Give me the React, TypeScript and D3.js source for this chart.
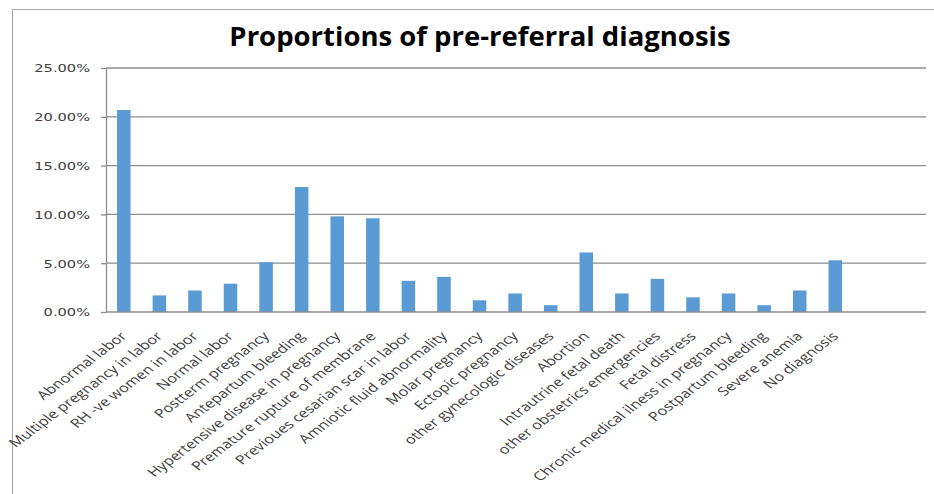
import { useEffect, useRef } from 'react';
import * as d3 from 'd3';

const chartTitle = 'Proportions of pre-referral diagnosis';

const categories = [
  'Abnormal labor',
  'Multiple pregnancy in labor',
  'RH -ve women in labor',
  'Normal labor',
  'Postterm pregnancy',
  'Antepartum bleeding',
  'Hypertensive disease in pregnancy',
  'Premature rupture of membrane',
  'Previoues cesarian scar in labor',
  'Amniotic fluid abnormality',
  'Molar pregnancy',
  'Ectopic pregnancy',
  'other gynecologic diseases',
  'Abortion',
  'Intrautrine fetal death',
  'other obstetrics emergencies',
  'Fetal distress',
  'Chronic medical ilness in pregnancy',
  'Postpartum bleeding',
  'Severe anemia',
  'No diagnosis',
];

// percent of referrals
const proportions = [
  20.7, 1.7, 2.2, 2.9, 5.1, 12.8, 9.8, 9.6, 3.2, 3.6, 1.2,
  1.9, 0.7, 6.1, 1.9, 3.4, 1.5, 1.9, 0.7, 2.2, 5.3,
];

const yTicks = [0, 5, 10, 15, 20, 25];

const App = () => {
  const ref = useRef<SVGSVGElement | null>(null);

  useEffect(() => {
    const svg = d3.select(ref.current);
    svg.selectAll('*').remove();

    const plot = { left: 106, right: 926, top: 68, bottom: 312 };
    const step = 35.575;
    const stretch = 1.33; // the picture is widened, text included
    const gridColor = '#8c8c8c';
    const textColor = '#404040';

    // chart frame
    svg
      .append('rect')
      .attr('x', 12.5)
      .attr('y', 9.5)
      .attr('width', 940)
      .attr('height', 500)
      .attr('fill', 'white')
      .attr('stroke', '#a6a6a6');

    svg
      .append('text')
      .attr('x', 480)
      .attr('y', 46)
      .attr('text-anchor', 'middle')
      .attr('font-family', 'Open Sans')
      .attr('font-weight', 'bold')
      .attr('font-size', 27.5)
      .attr('fill', '#000')
      .text(chartTitle);

    const x = d3
      .scaleBand<string>()
      .domain(categories)
      .range([plot.left, plot.left + step * categories.length])
      .paddingInner(0.62)
      .paddingOuter(0.31);

    const y = d3.scaleLinear().domain([0, 25]).range([plot.bottom, plot.top]);

    // gridlines
    svg
      .append('g')
      .selectAll('line')
      .data(yTicks.filter(t => t > 0))
      .enter()
      .append('line')
      .attr('x1', plot.left)
      .attr('x2', plot.right)
      .attr('y1', d => y(d))
      .attr('y2', d => y(d))
      .attr('stroke', gridColor)
      .attr('stroke-width', 1.3);

    // bars
    svg
      .append('g')
      .selectAll('rect')
      .data(categories)
      .enter()
      .append('rect')
      .attr('x', d => x(d)!)
      .attr('y', (d, i) => y(proportions[i]))
      .attr('width', x.bandwidth())
      .attr('height', (d, i) => plot.bottom - y(proportions[i]))
      .attr('fill', '#5b9bd5');

    // y axis
    const yAxis = svg
      .append('g')
      .attr('transform', `translate(${plot.left},0)`)
      .call(
        d3
          .axisLeft(y)
          .tickValues(yTicks)
          .tickSizeInner(5)
          .tickSizeOuter(0)
          .tickFormat(d => `${(+d).toFixed(2)}%`)
      );
    yAxis.select('.domain').attr('stroke', gridColor).attr('stroke-width', 1.3);
    yAxis.selectAll('.tick line').attr('stroke', gridColor).attr('stroke-width', 1.3);
    yAxis
      .selectAll('text')
      .attr('x', -12)
      .attr('dy', '0.36em')
      .attr('transform', `scale(${stretch},1)`)
      .attr('font-family', 'DejaVu Sans')
      .attr('font-size', 11)
      .attr('fill', textColor);

    // x axis
    const xAxis = svg
      .append('g')
      .attr('transform', `translate(0,${plot.bottom})`)
      .call(d3.axisBottom(x).tickSize(0));
    xAxis.select('.domain').remove();
    xAxis
      .append('line')
      .attr('x1', plot.left)
      .attr('x2', plot.right)
      .attr('stroke', gridColor)
      .attr('stroke-width', 1.3);
    xAxis
      .selectAll('.tick text')
      .attr('x', 0)
      .attr('y', 0)
      .attr('dy', 0)
      .attr('text-anchor', 'end')
      .attr('transform', `translate(4,25) scale(${stretch},1) rotate(-45)`)
      .attr('font-family', 'Open Sans')
      .attr('font-size', 12.3)
      .attr('fill', textColor);
  }, []);

  return (
    <svg
      ref={ref}
      width={934}
      height={494}
      style={{ position: 'absolute', left: 0, top: 0, background: 'white' }}
    />
  );
};

export default App;
